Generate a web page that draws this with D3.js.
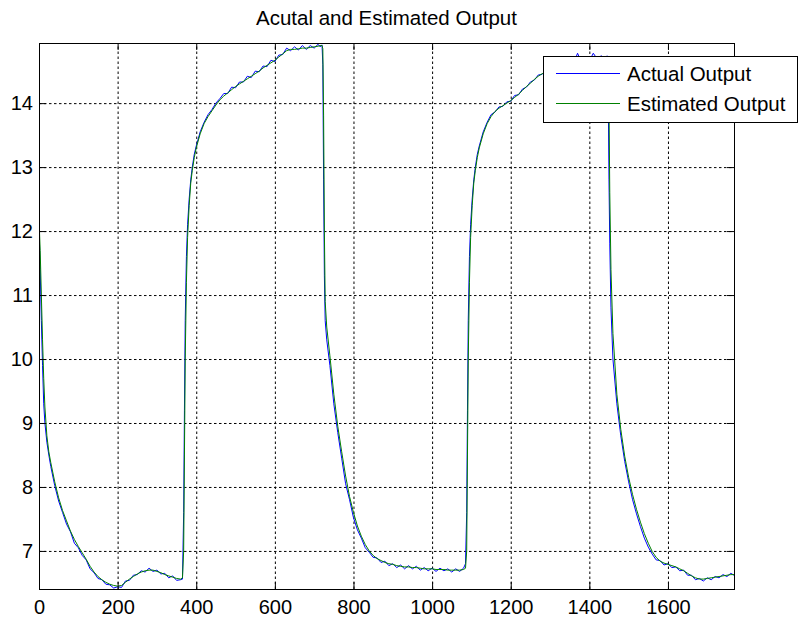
<!DOCTYPE html>
<html>
<head>
<meta charset="utf-8">
<script src="https://cdnjs.cloudflare.com/ajax/libs/d3/7.8.5/d3.min.js"></script>
<style>
body { margin: 0; background: #fff; }
svg text { font-family: 'Liberation Sans', Arial, Helvetica, sans-serif; fill: #000; }
</style>
</head>
<body>
<div id="panel"></div>
<script>
var title = 'Acutal and Estimated Output';
var seriesNames = ['Actual Output', 'Estimated Output'];
var seriesColors = ['#0000ff', '#008000'];
var xTicks = [0, 200, 400, 600, 800, 1000, 1200, 1400, 1600];
var yTicks = [7, 8, 9, 10, 11, 12, 13, 14];

var samples = [
  0, 3, 6, 9, 12, 15, 20, 25, 30, 40,
  50, 60, 70, 80, 90, 100, 110, 120, 130, 140,
  150, 160, 170, 180, 190, 200, 210, 220, 230, 240,
  250, 260, 270, 280, 290, 300, 310, 320, 330, 340,
  350, 360, 365, 368, 370, 372, 375, 378, 382, 386,
  390, 395, 400, 410, 420, 430, 440, 450, 460, 470,
  480, 490, 500, 510, 520, 530, 540, 550, 560, 570,
  580, 590, 600, 610, 620, 630, 640, 650, 660, 670,
  680, 690, 700, 710, 715, 720, 722, 724, 726, 728,
  732, 740, 750, 760, 770, 780, 790, 800, 810, 820,
  830, 840, 850, 860, 870, 880, 890, 900, 910, 920,
  930, 940, 950, 960, 970, 980, 990, 1000, 1010, 1020,
  1030, 1040, 1050, 1060, 1070, 1080, 1085, 1088, 1090, 1092,
  1095, 1098, 1102, 1106, 1110, 1115, 1120, 1130, 1140, 1150,
  1160, 1170, 1180, 1190, 1200, 1210, 1220, 1230, 1240, 1250,
  1260, 1270, 1280, 1290, 1300, 1310, 1320, 1330, 1340, 1350,
  1360, 1370, 1380, 1390, 1400, 1410, 1420, 1430, 1440, 1445,
  1448, 1450, 1452, 1455, 1460, 1470, 1480, 1490, 1500, 1510,
  1520, 1530, 1540, 1550, 1560, 1570, 1580, 1590, 1600, 1610,
  1620, 1630, 1640, 1650, 1660, 1670, 1680, 1690, 1700, 1710,
  1720, 1730, 1740, 1750, 1760, 1768
];

var actual = [
  12.1, 11.4, 10.6, 9.9, 9.3, 9.0, 8.7, 8.5, 8.32, 8.02,
  7.78, 7.6, 7.42, 7.3, 7.12, 7.05, 6.93, 6.86, 6.72, 6.66,
  6.57, 6.55, 6.48, 6.47, 6.42, 6.44, 6.43, 6.53, 6.54, 6.62,
  6.63, 6.69, 6.67, 6.73, 6.68, 6.7, 6.64, 6.65, 6.58, 6.61,
  6.54, 6.55, 6.56, 7.6, 9.2, 10.6, 11.6, 12.1, 12.5, 12.8,
  13.0, 13.2, 13.33, 13.55, 13.7, 13.82, 13.9, 14.0, 14.07, 14.15,
  14.15, 14.25, 14.24, 14.33, 14.33, 14.42, 14.4, 14.5, 14.49, 14.58,
  14.57, 14.67, 14.65, 14.75, 14.76, 14.86, 14.82, 14.88, 14.83, 14.9,
  14.84, 14.9, 14.86, 14.92, 14.88, 14.91, 14.6, 12.8, 11.3, 10.6,
  10.3, 9.9, 9.3, 8.85, 8.45, 8.05, 7.8, 7.52, 7.33, 7.2,
  7.05, 6.98, 6.9, 6.89, 6.82, 6.84, 6.77, 6.8, 6.74, 6.78,
  6.72, 6.77, 6.72, 6.76, 6.7, 6.74, 6.69, 6.73, 6.68, 6.73,
  6.69, 6.72, 6.67, 6.72, 6.68, 6.73, 6.8, 7.6, 9.2, 10.6,
  11.6, 12.1, 12.5, 12.8, 13.0, 13.2, 13.33, 13.55, 13.7, 13.82,
  13.86, 13.94, 13.95, 14.02, 14.03, 14.12, 14.13, 14.22, 14.25, 14.33,
  14.36, 14.44, 14.45, 14.52, 14.5, 14.58, 14.55, 14.62, 14.6, 14.66,
  14.62, 14.78, 14.64, 14.7, 14.66, 14.78, 14.69, 14.74, 14.7, 14.74,
  14.2, 12.8, 11.8, 10.8, 10.0, 9.3, 8.8, 8.4, 8.08, 7.8,
  7.58, 7.38, 7.2, 7.06, 6.95, 6.86, 6.85, 6.78, 6.8, 6.74,
  6.75, 6.69, 6.7, 6.62, 6.62, 6.55, 6.57, 6.53, 6.58, 6.55,
  6.6, 6.58, 6.63, 6.6, 6.65, 6.62
];

var estimated = [
  12.2, 11.7, 11.0, 10.3, 9.7, 9.25, 8.8, 8.55, 8.38, 8.08,
  7.83, 7.63, 7.47, 7.31, 7.18, 7.07, 6.97, 6.87, 6.76, 6.67,
  6.6, 6.55, 6.51, 6.48, 6.46, 6.45, 6.46, 6.51, 6.56, 6.6,
  6.64, 6.67, 6.69, 6.7, 6.7, 6.68, 6.66, 6.63, 6.61, 6.59,
  6.57, 6.56, 6.58, 7.0, 8.5, 10.0, 11.2, 11.9, 12.4, 12.75,
  12.95, 13.15, 13.3, 13.52, 13.68, 13.79, 13.88, 13.97, 14.05, 14.11,
  14.16, 14.21, 14.26, 14.3, 14.34, 14.38, 14.42, 14.46, 14.5, 14.55,
  14.59, 14.63, 14.67, 14.72, 14.77, 14.82, 14.84, 14.84, 14.85, 14.86,
  14.86, 14.87, 14.88, 14.89, 14.9, 14.9, 14.85, 13.8, 12.0, 10.9,
  10.5, 10.05, 9.45, 8.95, 8.55, 8.17, 7.85, 7.6, 7.39, 7.23,
  7.1, 7.0, 6.93, 6.88, 6.85, 6.82, 6.8, 6.79, 6.77, 6.76,
  6.75, 6.75, 6.74, 6.74, 6.73, 6.72, 6.72, 6.72, 6.71, 6.71,
  6.71, 6.7, 6.7, 6.7, 6.7, 6.71, 6.73, 7.0, 8.5, 10.0,
  11.2, 11.9, 12.4, 12.75, 12.95, 13.15, 13.3, 13.52, 13.68, 13.79,
  13.87, 13.92, 13.96, 14.0, 14.04, 14.09, 14.14, 14.2, 14.26, 14.31,
  14.37, 14.42, 14.46, 14.5, 14.52, 14.55, 14.57, 14.59, 14.61, 14.63,
  14.64, 14.65, 14.66, 14.67, 14.68, 14.69, 14.7, 14.71, 14.72, 14.72,
  14.7, 14.0, 12.6, 11.4, 10.4, 9.45, 8.9, 8.48, 8.15, 7.88,
  7.65, 7.45, 7.27, 7.12, 6.99, 6.9, 6.84, 6.81, 6.79, 6.77,
  6.75, 6.72, 6.69, 6.65, 6.61, 6.58, 6.56, 6.56, 6.57, 6.58,
  6.59, 6.6, 6.61, 6.62, 6.63, 6.63
];

var w = 799;
var h = 623;
var box = { left: 39, right: 734, top: 43, bottom: 589 };
var fontSize = 20;

var x = d3.scaleLinear().domain([0, 1768]).range([box.left, box.right]);
var y = d3.scaleLinear().domain([6.405, 14.94]).range([box.bottom, box.top]);

var svg = d3.select('#panel').append('svg')
    .attr('width', w)
    .attr('height', h)
    .style('display', 'block')
    .style('background', '#fff');

svg.append('clipPath').attr('id', 'plotclip')
  .append('rect')
    .attr('x', box.left)
    .attr('y', box.top)
    .attr('width', box.right - box.left)
    .attr('height', box.bottom - box.top);

// dotted grid
var gridX = svg.append('g')
    .attr('transform', 'translate(0,' + box.bottom + ')')
    .call(d3.axisBottom(x).tickValues(xTicks.slice(1)).tickSize(-(box.bottom - box.top)).tickFormat(''));
var gridY = svg.append('g')
    .attr('transform', 'translate(' + box.left + ',0)')
    .call(d3.axisLeft(y).tickValues(yTicks).tickSize(-(box.right - box.left)).tickFormat(''));
[gridX, gridY].forEach(function (g) {
  g.select('.domain').remove();
  g.selectAll('line')
    .attr('stroke', '#000')
    .attr('stroke-width', 1)
    .attr('stroke-dasharray', '2.5,2.5');
});

// series
var line = d3.line()
    .x(function (d, i) { return x(samples[i]); })
    .y(function (d) { return y(d); });

var plot = svg.append('g').attr('clip-path', 'url(#plotclip)');
[actual, estimated].forEach(function (series, k) {
  plot.append('path')
    .datum(series)
    .attr('fill', 'none')
    .attr('stroke', seriesColors[k])
    .attr('stroke-width', 1)
    .attr('stroke-linejoin', 'round')
    .attr('d', line);
});

// inward ticks on all four sides
function styleAxis(g, showText) {
  g.select('.domain').remove();
  g.selectAll('line').attr('stroke', '#000').attr('stroke-width', 1);
  g.selectAll('text').attr('font-size', fontSize).style('font-family', "'Liberation Sans', Arial, sans-serif");
  if (!showText) g.selectAll('text').remove();
}

svg.append('g')
    .attr('transform', 'translate(0,' + box.bottom + ')')
    .call(d3.axisBottom(x).tickValues(xTicks).tickSize(-7).tickPadding(11).tickFormat(d3.format('d')))
    .call(styleAxis, true);
svg.append('g')
    .attr('transform', 'translate(0,' + box.top + ')')
    .call(d3.axisTop(x).tickValues(xTicks).tickSize(-7))
    .call(styleAxis, false);
svg.append('g')
    .attr('transform', 'translate(' + box.left + ',0)')
    .call(d3.axisLeft(y).tickValues(yTicks).tickSize(-7).tickPadding(6).tickFormat(d3.format('d')))
    .call(styleAxis, true);
svg.append('g')
    .attr('transform', 'translate(' + box.right + ',0)')
    .call(d3.axisRight(y).tickValues(yTicks).tickSize(-7))
    .call(styleAxis, false);

svg.append('rect')
    .attr('x', box.left + 0.5)
    .attr('y', box.top + 0.5)
    .attr('width', box.right - box.left)
    .attr('height', box.bottom - box.top)
    .attr('fill', 'none')
    .attr('stroke', '#000')
    .attr('stroke-width', 1);

svg.append('text')
    .attr('x', (box.left + box.right) / 2)
    .attr('y', 25)
    .attr('text-anchor', 'middle')
    .attr('font-size', 20.5)
    .text(title);

// legend
var legend = svg.append('g').attr('transform', 'translate(543,56)');
legend.append('rect')
    .attr('x', 0.5)
    .attr('y', 0.5)
    .attr('width', 254)
    .attr('height', 66)
    .attr('fill', '#fff')
    .attr('stroke', '#000')
    .attr('stroke-width', 1);

var items = legend.selectAll('g.item')
    .data(seriesNames)
    .enter()
    .append('g')
    .attr('class', 'item')
    .attr('transform', function (d, i) { return 'translate(0,' + (17.5 + i * 30) + ')'; });
items.append('line')
    .attr('x1', 13)
    .attr('x2', 77)
    .attr('stroke', function (d, i) { return seriesColors[i]; })
    .attr('stroke-width', 1);
items.append('text')
    .attr('x', 84)
    .attr('y', 7.5)
    .attr('font-size', 20.5)
    .text(function (d) { return d; });
</script>
</body>
</html>
